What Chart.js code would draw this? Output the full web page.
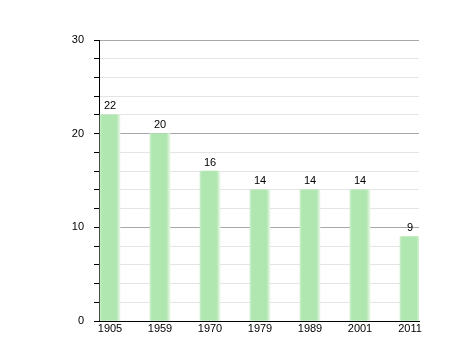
<!DOCTYPE html>
<html>
<head>
<meta charset="utf-8">
<script src="https://cdn.jsdelivr.net/npm/chart.js@4/dist/chart.umd.min.js"></script>
<style>
html,body{margin:0;padding:0;background:#fff;}
#c{display:block;}
</style>
</head>
<body>
<canvas id="c" width="458" height="360"></canvas>
<script>
const categories = ["1905", "1959", "1970", "1979", "1989", "2001", "2011"];
const values = [22, 20, 16, 14, 14, 14, 9];
const yTicks = [0, 10, 20, 30];

const points = values.map((v, i) => ({x: i, y: v}));

const valueLabels = {
  id: 'valueLabels',
  afterDatasetsDraw(chart) {
    const ctx = chart.ctx;
    const meta = chart.getDatasetMeta(0);
    ctx.save();
    ctx.font = '11px "Liberation Sans", Arial, sans-serif';
    ctx.fillStyle = '#000';
    ctx.textAlign = 'center';
    ctx.textBaseline = 'bottom';
    meta.data.forEach((bar, i) => {
      ctx.fillText(String(values[i]), bar.x, bar.y - 3);
    });
    ctx.restore();
  }
};

new Chart(document.getElementById('c'), {
  type: 'bar',
  data: {
    datasets: [{
      data: points,
      barThickness: 20,
      borderWidth: 0,
      backgroundColor(context) {
        const chart = context.chart;
        const xs = chart.scales.x;
        if (!xs || context.dataIndex === undefined) return '#b0e6b0';
        const px = xs.getPixelForValue(context.dataIndex);
        if (!isFinite(px)) return '#b0e6b0';
        const g = chart.ctx.createLinearGradient(px - 10, 0, px + 10, 0);
        g.addColorStop(0, '#c8eec8');
        g.addColorStop(0.12, '#b0e6b0');
        g.addColorStop(0.82, '#b0e6b0');
        g.addColorStop(1, '#e6f7e6');
        return g;
      }
    }]
  },
  options: {
    responsive: false,
    animation: false,
    layout: {padding: {left: 0, right: 39, top: 40, bottom: 0}},
    plugins: {legend: {display: false}, tooltip: {enabled: false}},
    scales: {
      x: {
        type: 'linear',
        offset: false,
        min: -0.22,
        max: 6.18,
        grid: {display: false, drawTicks: false, offset: false},
        border: {color: '#000', width: 1},
        afterBuildTicks(scale) {
          scale.ticks = categories.map((c, i) => ({value: i}));
        },
        afterFit(scale) { scale.height = 39; },
        ticks: {
          autoSkip: false,
          maxRotation: 0,
          padding: 1,
          color: '#000',
          font: {family: '"Liberation Sans", Arial, sans-serif', size: 11},
          callback(v) { return categories[Math.round(v)]; }
        }
      },
      y: {
        min: 0,
        max: 30,
        afterFit(scale) { scale.width = 99; },
        border: {color: '#000', width: 1},
        grid: {
          color(ctx) {
            const v = ctx.tick ? ctx.tick.value : 0;
            return yTicks.includes(v) ? '#a8a8a8' : '#e4e4e4';
          },
          tickColor: '#000',
          tickLength: 5,
          drawTicks: true
        },
        ticks: {
          stepSize: 2,
          autoSkip: false,
          padding: 10,
          color: '#000',
          font: {family: '"Liberation Sans", Arial, sans-serif', size: 11},
          callback(v) { return yTicks.includes(v) ? String(v) : ''; }
        }
      }
    }
  },
  plugins: [valueLabels]
});
</script>
</body>
</html>
